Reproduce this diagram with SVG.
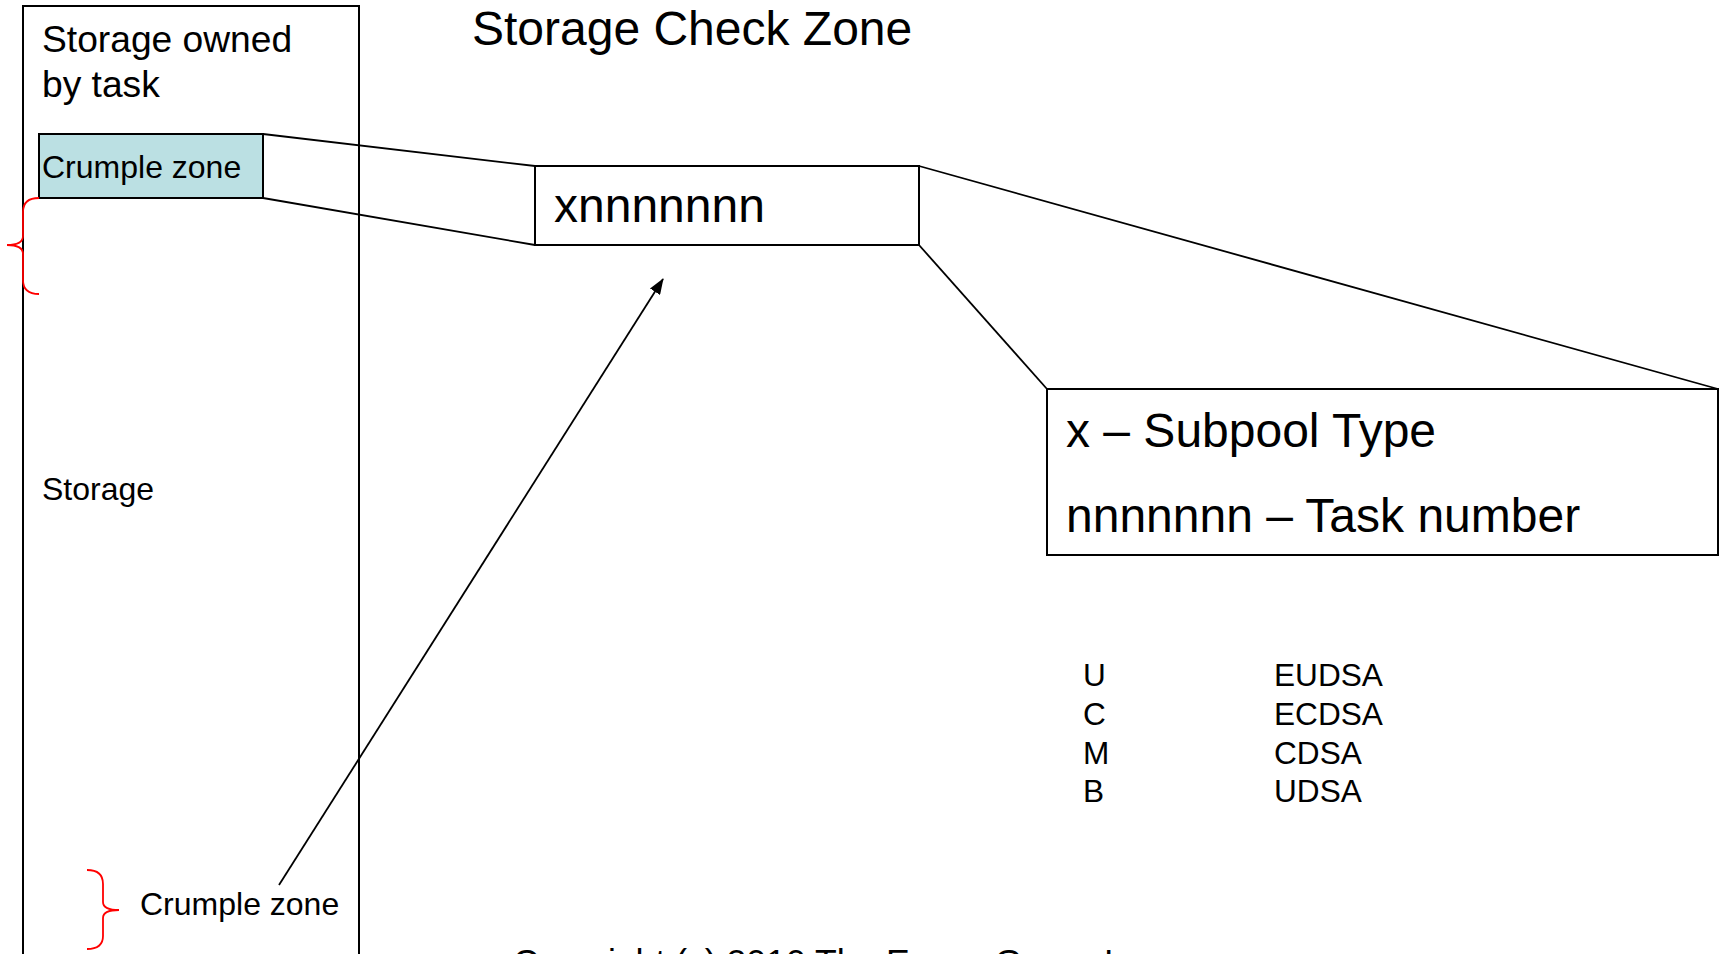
<svg xmlns="http://www.w3.org/2000/svg" width="1723" height="954" viewBox="0 0 1723 954">
<style>
text{font-family:"Liberation Sans",Arial,sans-serif;fill:#000}
.box{fill:#fff;stroke:#000;stroke-width:2}
.ln{stroke:#000;stroke-width:1.8;fill:none}
.brace{stroke:#f00;stroke-width:1.8;fill:none}
.t48{font-size:48px}
.t37{font-size:37.2px}
.t32{font-size:32px}
.t31{font-size:31.6px}
</style>
<defs>
<marker id="ah" markerWidth="16" markerHeight="12" refX="15" refY="6" orient="auto" markerUnits="userSpaceOnUse" viewBox="0 0 16 12">
<path d="M0,0 L16,6 L0,12 Z" fill="#000"/>
</marker>
</defs>
<rect width="1723" height="954" fill="#fff"/>
<g id="title"><text class="t48" x="472" y="45">Storage Check Zone</text></g>
<g id="task-storage">
<rect class="box" x="23" y="6" width="336" height="960"/>
<text class="t37" x="42" y="52">Storage owned</text>
<text class="t37" x="42" y="97">by task</text>
<text class="t32" x="42" y="500">Storage</text>
</g>
<g id="connectors">
<line class="ln" x1="263" y1="134" x2="535" y2="166"/>
<line class="ln" x1="263" y1="198" x2="535" y2="245"/>
<line class="ln" x1="919" y1="166" x2="1718" y2="389"/>
<line class="ln" x1="919" y1="245" x2="1047" y2="389"/>
<line class="ln" x1="279" y1="885" x2="663" y2="279" stroke-width="2" marker-end="url(#ah)"/>
</g>
<g id="crumple-top">
<rect x="39" y="134" width="224" height="64" fill="#bbe0e3" stroke="#000" stroke-width="2"/>
<text class="t32" x="42" y="178">Crumple zone</text>
</g>
<g id="brace-top">
<path class="brace" d="M39,198 Q23,198 23,212 L23,236 Q23,245 7,245 Q23,245 23,254 L23,280 Q23,294 39,294"/>
</g>
<g id="check-zone">
<rect class="box" x="535" y="166" width="384" height="79"/>
<text class="t48" x="554" y="222">xnnnnnnn</text>
</g>
<g id="subpool-box">
<rect class="box" x="1047" y="389" width="671" height="166"/>
<text class="t48" x="1066" y="447">x – Subpool Type</text>
<text class="t48" x="1066" y="532">nnnnnnn – Task number</text>
</g>
<g id="legend">
<text class="t31" x="1083" y="686">U</text>
<text class="t31" x="1083" y="725">C</text>
<text class="t31" x="1083" y="764">M</text>
<text class="t31" x="1083" y="802">B</text>
<text class="t31" x="1274" y="686">EUDSA</text>
<text class="t31" x="1274" y="725">ECDSA</text>
<text class="t31" x="1274" y="764">CDSA</text>
<text class="t31" x="1274" y="802">UDSA</text>
</g>
<g id="crumple-bottom">
<path class="brace" d="M87,870 Q103,870 103,884 L103,902 Q103,910 119,910 Q103,910 103,918 L103,936 Q103,949 87,949"/>
<text class="t32" x="140" y="915">Crumple zone</text>
</g>
<g id="copyright"><text x="513" y="974" style="font-size:35.6px">Copyright (c) 2010 The Evans Group Inc</text></g>
</svg>
